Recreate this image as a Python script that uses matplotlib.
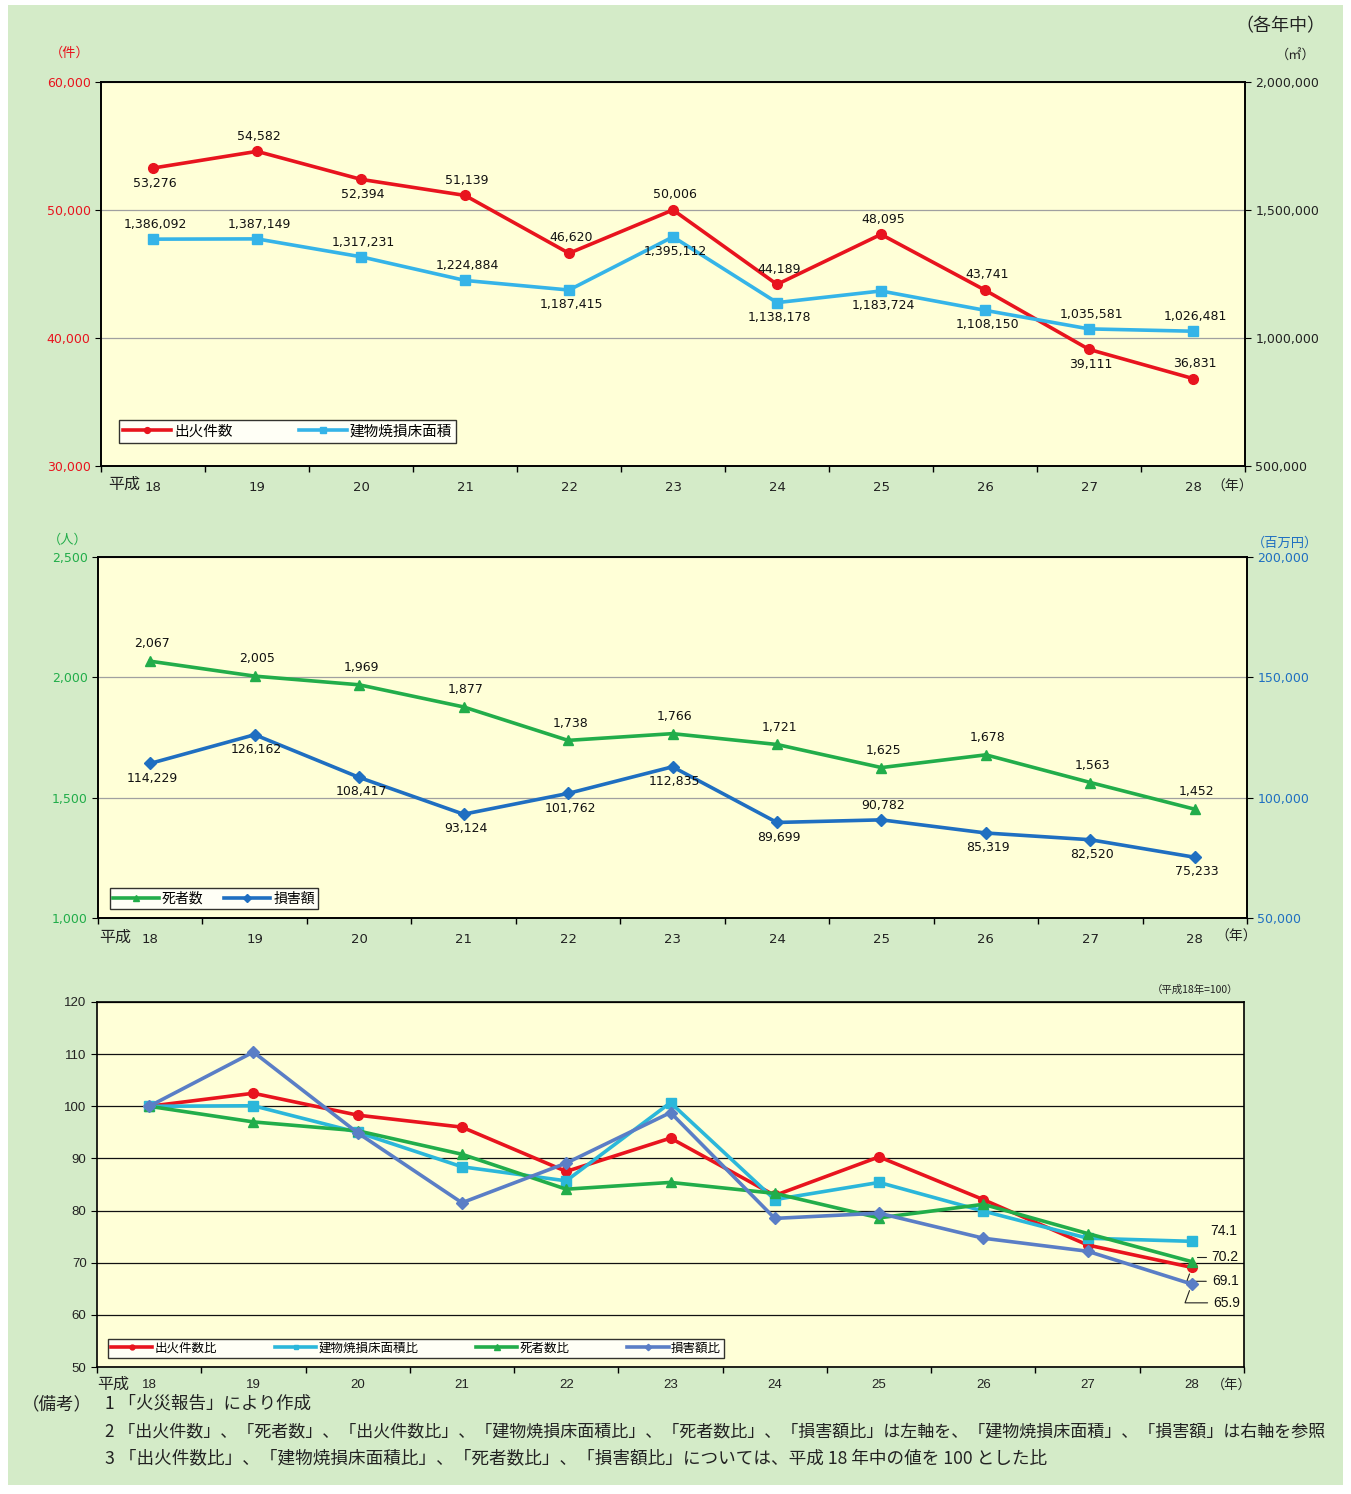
import matplotlib
matplotlib.use("Agg")
import matplotlib.pyplot as plt
from matplotlib.patches import Rectangle
from matplotlib.ticker import FuncFormatter

plt.rcParams['font.family'] = ['DejaVu Sans', 'Noto Sans CJK JP']
JP = ['Noto Sans CJK JP', 'DejaVu Sans']
AR = ['Liberation Sans', 'Noto Sans CJK JP']

# ---------------- data ----------------
years = ['18', '19', '20', '21', '22', '23', '24', '25', '26', '27', '28']

fires = [53276, 54582, 52394, 51139, 46620, 50006, 44189, 48095, 43741, 39111, 36831]
floor_area = [1386092, 1387149, 1317231, 1224884, 1187415, 1395112, 1138178, 1183724, 1108150, 1035581, 1026481]
fires_pos = ['b', 't', 'b', 't', 't', 't', 't', 't', 't', 'b', 't']
area_pos = ['t', 't', 't', 't', 'b', 'b', 'b', 'b', 'b', 't', 't']

deaths = [2067, 2005, 1969, 1877, 1738, 1766, 1721, 1625, 1678, 1563, 1452]
damage = [114229, 126162, 108417, 93124, 101762, 112835, 89699, 90782, 85319, 82520, 75233]
damage_pos = ['b', 'b', 'b', 'b', 'b', 'b', 'b', 't', 'b', 'b', 'b']

fires_ratio = [100, 102.5, 98.3, 96.0, 87.5, 93.9, 82.9, 90.3, 82.1, 73.4, 69.1]
area_ratio = [100, 100.1, 95.0, 88.4, 85.7, 100.7, 82.1, 85.4, 79.9, 74.7, 74.1]
deaths_ratio = [100, 97.0, 95.3, 90.8, 84.1, 85.4, 83.3, 78.6, 81.2, 75.6, 70.2]
damage_ratio = [100, 110.4, 94.9, 81.5, 89.1, 98.8, 78.5, 79.5, 74.7, 72.2, 65.9]

# ---------------- style ----------------
W, H = 1351, 1494
RED = '#e8141e'
LBLUE = '#35b4e8'
GREEN = '#22ad4a'
BLUE = '#1f6fc1'
CYAN = '#2bb7da'
SBLUE = '#5a7ec6'
BG = '#d4ebc8'
FACE = '#ffffd7'
INK = '#222222'

fig = plt.figure(figsize=(W / 100, H / 100), dpi=100)
fig.patch.set_facecolor('white')
fig.patches.append(Rectangle((8 / W, 1 - 1485 / H), (1343 - 8) / W, (1485 - 5) / H,
                             transform=fig.transFigure, facecolor=BG, edgecolor='none', zorder=-10))


def rect(x0, y0, x1, y1):
    return [x0 / W, 1 - y1 / H, (x1 - x0) / W, (y1 - y0) / H]


def ftext(x, y, s, **kw):
    fig.text(x / W, 1 - y / H, s, **kw)


comma = FuncFormatter(lambda v, p: f'{int(round(v)):,}')
xs = list(range(len(years)))


def setup_x(ax, pad, fam):
    ax.set_xlim(-0.5, len(years) - 0.5)
    ax.set_xticks(xs)
    ax.set_xticklabels(years, fontsize=9.5, color=INK, family=fam)
    ax.tick_params(axis='x', which='major', length=0, pad=pad)
    ax.set_xticks([i + 0.5 for i in range(-1, len(years))], minor=True)
    ax.tick_params(axis='x', which='minor', length=4, direction='out', width=1)
    for s in ax.spines.values():
        s.set_linewidth(1.2)
        s.set_color('black')


def label(ax, x, y, txt, pos, dy=11, dx=1.5):
    ax.annotate(txt, (x, y), xytext=(dx, dy if pos == 't' else -dy), textcoords='offset points',
                ha='center', va='center', fontsize=9, color='#111111', zorder=10)


# ================ top chart ================
ax1 = fig.add_axes(rect(101, 82, 1245, 466))
ax1.set_facecolor(FACE)
ax1.set_ylim(30000, 60000)
ax1.set_yticks([30000, 40000, 50000, 60000])
ax1.yaxis.set_major_formatter(comma)
ax1.tick_params(axis='y', labelcolor=RED, labelsize=9, length=4)
ax1.yaxis.grid(True, color='#a0a0a0', linewidth=0.9)
ax1.set_axisbelow(True)
setup_x(ax1, 11, 'DejaVu Sans')
ax1b = ax1.twinx()
ax1b.set_ylim(500000, 2000000)
ax1b.set_yticks([500000, 1000000, 1500000, 2000000])
ax1b.yaxis.set_major_formatter(comma)
ax1b.tick_params(axis='y', labelsize=9, length=4, labelcolor=INK)
for s in ax1b.spines.values():
    s.set_linewidth(1.2)

l1, = ax1.plot(xs, fires, color=RED, lw=2.6, marker='o', ms=7, zorder=5, label='出火件数')
l2, = ax1b.plot(xs, floor_area, color=LBLUE, lw=2.6, marker='s', ms=7, zorder=5, label='建物焼損床面積')
for i in xs:
    label(ax1, i, fires[i], f'{fires[i]:,}', fires_pos[i], dy=11)
    label(ax1b, i, floor_area[i], f'{floor_area[i]:,}', area_pos[i], dy=10.5)
leg = ax1b.legend(handles=[l1, l2], loc='lower left', bbox_to_anchor=(0.0157, 0.06), ncol=2,
                  frameon=True, fancybox=False, edgecolor='black', prop={'family': JP, 'size': 10.5},
                  handlelength=3.3, columnspacing=4.5, borderpad=0.3, handletextpad=0.2,
                  markerscale=0.6, borderaxespad=0)
leg.get_frame().set_linewidth(1.0)

ftext(70, 53, '（件）', fontsize=9.5, color=RED, ha='center', va='center', family=JP)
ftext(1296, 56, '（㎡）', fontsize=9.5, color=INK, ha='center', va='center', family=JP)
ftext(1280, 26, '（各年中）', fontsize=13, color=INK, ha='center', va='center', family=JP)
ftext(124, 484, '平成', fontsize=11.5, color=INK, ha='center', va='center', family=JP)
ftext(1232, 487, '（年）', fontsize=10, color=INK, ha='center', va='center', family=JP)

# ================ middle chart ================
ax2 = fig.add_axes(rect(98, 557, 1247, 918))
ax2.set_facecolor(FACE)
ax2.set_ylim(1000, 2500)
ax2.set_yticks([1000, 1500, 2000, 2500])
ax2.yaxis.set_major_formatter(comma)
ax2.tick_params(axis='y', labelcolor=GREEN, labelsize=9, length=4)
ax2.yaxis.grid(True, color='#a0a0a0', linewidth=0.9)
ax2.set_axisbelow(True)
setup_x(ax2, 11, 'DejaVu Sans')
ax2b = ax2.twinx()
ax2b.set_ylim(50000, 200000)
ax2b.set_yticks([50000, 100000, 150000, 200000])
ax2b.yaxis.set_major_formatter(comma)
ax2b.tick_params(axis='y', labelsize=9, length=4, labelcolor=BLUE)
for s in ax2b.spines.values():
    s.set_linewidth(1.2)

m1, = ax2.plot(xs, deaths, color=GREEN, lw=2.6, marker='^', ms=7.5, zorder=5, label='死者数')
m2, = ax2b.plot(xs, damage, color=BLUE, lw=2.6, marker='D', ms=6.5, zorder=5, label='損害額')
for i in xs:
    label(ax2, i, deaths[i], f'{deaths[i]:,}', 't', dy=12.5)
    label(ax2b, i, damage[i], f'{damage[i]:,}', damage_pos[i], dy=10.5)
leg2 = ax2b.legend(handles=[m1, m2], loc='lower left', bbox_to_anchor=(0.0104, 0.025), ncol=2,
                   frameon=True, fancybox=False, edgecolor='black', prop={'family': JP, 'size': 10},
                   handlelength=3.3, columnspacing=1.5, borderpad=0.25, handletextpad=0.2,
                   markerscale=0.6, borderaxespad=0)
leg2.get_frame().set_linewidth(1.0)

ftext(68, 540, '（人）', fontsize=9.5, color=GREEN, ha='center', va='center', family=JP)
ftext(1285, 543, '（百万円）', fontsize=9.5, color=BLUE, ha='center', va='center', family=JP)
ftext(115, 937, '平成', fontsize=11.5, color=INK, ha='center', va='center', family=JP)
ftext(1236, 937, '（年）', fontsize=10, color=INK, ha='center', va='center', family=JP)

# ================ bottom chart ================
ax3 = fig.add_axes(rect(97, 1002, 1244, 1367))
ax3.set_facecolor(FACE)
ax3.set_ylim(50, 120)
ax3.set_yticks(range(50, 121, 10))
ax3.tick_params(axis='y', labelsize=9.5, length=4, labelcolor=INK)
for t in ax3.get_yticklabels():
    t.set_family(AR)
ax3.yaxis.grid(True, color='#111111', linewidth=0.9)
ax3.set_axisbelow(True)
setup_x(ax3, 9, AR)

r1, = ax3.plot(xs, fires_ratio, color=RED, lw=2.6, marker='o', ms=7, zorder=5, label='出火件数比')
r2, = ax3.plot(xs, area_ratio, color=CYAN, lw=2.6, marker='s', ms=7, zorder=5, label='建物焼損床面積比')
r3, = ax3.plot(xs, deaths_ratio, color=GREEN, lw=2.6, marker='^', ms=7.5, zorder=5, label='死者数比')
r4, = ax3.plot(xs, damage_ratio, color=SBLUE, lw=2.6, marker='D', ms=6.5, zorder=5, label='損害額比')
leg3 = ax3.legend(handles=[r1, r2, r3, r4], loc='lower left', bbox_to_anchor=(0.0096, 0.0247), ncol=4,
                  frameon=True, fancybox=False, edgecolor='black', prop={'family': JP, 'size': 9},
                  handlelength=3.3, columnspacing=4.6, borderpad=0.25, handletextpad=0.2,
                  markerscale=0.5, borderaxespad=0)
leg3.get_frame().set_linewidth(1.0)

last = len(years) - 1
end_labels = [
    (area_ratio[last], (23, 7.5), False),
    (deaths_ratio[last], (24, 3.5), True),
    (fires_ratio[last], (24, -10), True),
    (damage_ratio[last], (25, -13.5), True),
]
for val, (dx, dy), leader in end_labels:
    kw = dict(xytext=(dx, dy), textcoords='offset points', ha='center', va='center',
              fontsize=10, color='#111111', family=AR)
    if leader:
        kw['arrowprops'] = dict(arrowstyle='-', color=INK, lw=0.8,
                                connectionstyle='angle,angleA=0,angleB=70,rad=0',
                                shrinkA=2, shrinkB=5)
    ax3.annotate(f'{val:.1f}', (last, val), **kw)

ftext(1195, 990, '（平成18年=100）', fontsize=7.5, color=INK, ha='center', va='center', family=JP)
ftext(113, 1384, '平成', fontsize=11.5, color=INK, ha='center', va='center', family=JP)
ftext(1232, 1385, '（年）', fontsize=9.5, color=INK, ha='center', va='center', family=JP)

# ---------------- notes ----------------
nfs = 12.6
ftext(22, 1404, '（備考）', fontsize=nfs, color=INK, ha='left', va='center', family=JP)
ftext(105, 1404, '1 「火災報告」により作成', fontsize=nfs, color=INK, ha='left', va='center', family=JP)
ftext(105, 1431, '2 「出火件数」、「死者数」、「出火件数比」、「建物焼損床面積比」、「死者数比」、「損害額比」は左軸を、「建物焼損床面積」、「損害額」は右軸を参照',
      fontsize=12.25, color=INK, ha='left', va='center', family=JP)
ftext(105, 1458, '3 「出火件数比」、「建物焼損床面積比」、「死者数比」、「損害額比」については、平成 18 年中の値を 100 とした比',
      fontsize=12.7, color=INK, ha='left', va='center', family=JP)

fig.savefig('out.png', dpi=100, facecolor=fig.get_facecolor())
